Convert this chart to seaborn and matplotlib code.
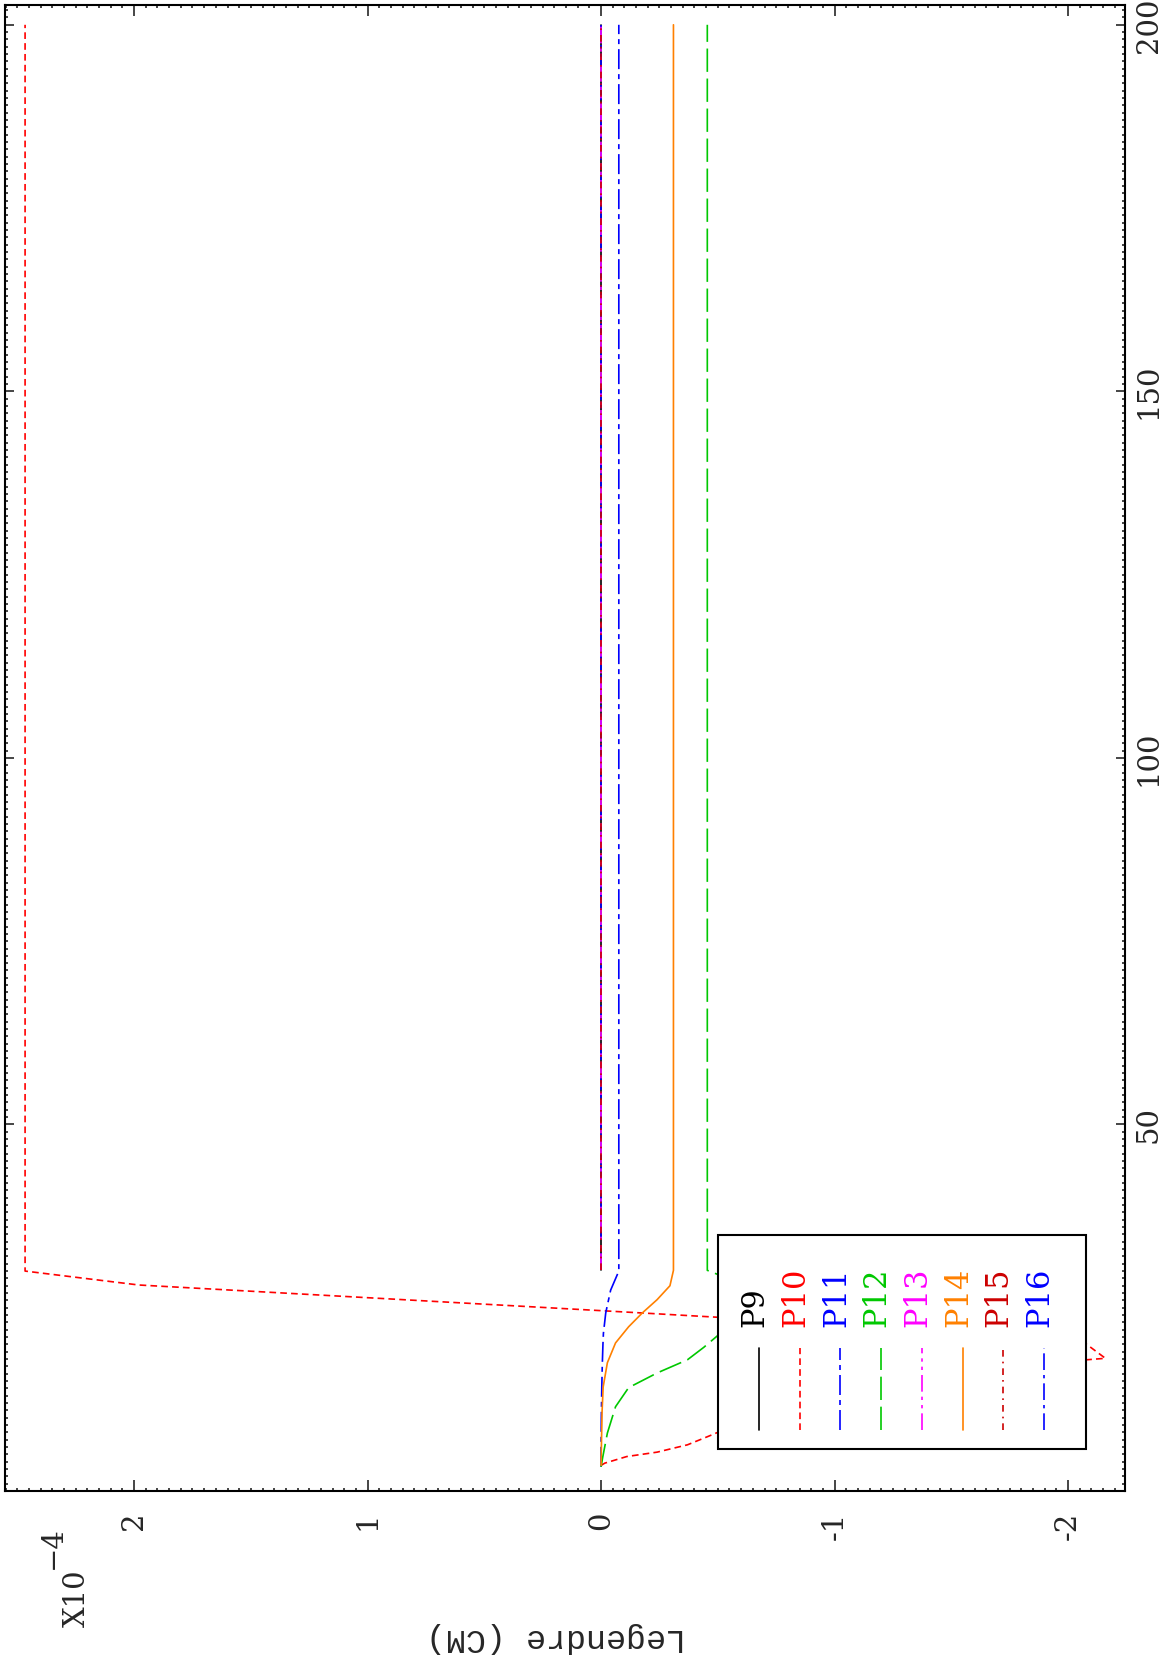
import matplotlib
matplotlib.use("Agg")
import matplotlib.pyplot as plt
import seaborn as sns
from matplotlib.lines import Line2D
from matplotlib.patches import Rectangle
from matplotlib.ticker import MultipleLocator

# ---- data (values in units of 1e-4 cm) ----
labels = ["P9", "P10", "P11", "P12", "P13", "P14", "P15", "P16"]
colors = ["#000000", "#ff0000", "#0000ff", "#00c800", "#ff00ff", "#ff8000", "#cc0000", "#0000ff"]

p9_x = [30.1, 200]
p9_v = [0, 0]

p10_x = [3.5, 3.8, 4.7, 5.3, 6.3, 7.4, 8.0, 10, 12, 14, 16, 17.9, 18.1, 20.0, 22.0, 23.7, 24.6, 28.1, 30.0, 200]
p10_v = [0, -0.016, -0.11, -0.24, -0.37, -0.455, -0.50, -0.65, -0.85, -1.1, -1.45, -2.08, -2.16, -2.08, -1.2, -0.50, 0, 1.98, 2.467, 2.467]

p11_x = [3.3, 6.5, 10, 14, 17, 20, 21.5, 24.3, 27.4, 29.7, 30.1, 200]
p11_v = [0, 0, -0.001, -0.003, -0.005, -0.008, -0.01, -0.02, -0.041, -0.072, -0.076, -0.076]

p12_x = [3.3, 4.6, 7.9, 11.5, 14.1, 16.1, 17.9, 19.6, 21.3, 23.0, 25.0, 27.0, 29.5, 30.1, 200]
p12_v = [0, -0.007, -0.027, -0.062, -0.118, -0.24, -0.37, -0.44, -0.503, -0.55, -0.57, -0.56, -0.503, -0.455, -0.455]

p13_x = [30.1, 200]
p13_v = [0, 0]

p14_x = [3.5, 10.6, 14.2, 17.5, 20.2, 22.4, 24.3, 26.1, 28.0, 30.1, 200]
p14_v = [0, -0.004, -0.009, -0.027, -0.062, -0.118, -0.177, -0.24, -0.295, -0.31, -0.31]

p15_x = [30.1, 200]
p15_v = [0, 0]

p16_x = [30.1, 200]
p16_v = [0, 0]

series_x = [p9_x, p10_x, p11_x, p12_x, p13_x, p14_x, p15_x, p16_x]
series_v = [p9_v, p10_v, p11_v, p12_v, p13_v, p14_v, p15_v, p16_v]

styles = ["-", (0, (4, 2.5)), (0, (12, 3, 3, 3)), (0, (14, 4)),
          (0, (10, 3, 2, 3, 2, 3)), "-", (0, (4, 3, 1, 3)), (0, (10, 3, 2, 3))]
# stacking so the dark red / magenta zero lines sit on top of the blue one
zorders = [2, 2, 2, 2, 3, 2, 4, 2.5]

val_ticks = [-2, -1, 0, 1, 2]
pos_ticks = [50, 100, 150, 200]

sns.set_style("white")
plt.rcParams["font.family"] = ["DejaVu Serif"]

W, H = 1167, 1659
fig = plt.figure(figsize=(W / 100, H / 100), dpi=100)
ax = fig.add_axes([5 / W, 1 - 1491 / H, 1120 / W, 1486 / H])

lw = 1.2
for xs, vs, c, ls, z in zip(series_x, series_v, colors, styles, zorders):
    sns.lineplot(x=vs, y=xs, orient="y", sort=False, estimator=None,
                 color=c, linestyle=ls, linewidth=lw, zorder=z, ax=ax)

ax.set_xlim(2.553, -2.244)
ax.set_ylim(0, 202.7)
ax.set_xlabel("")
ax.set_ylabel("")

for s in ax.spines.values():
    s.set_visible(True)
    s.set_linewidth(1.5)
    s.set_color("black")

ax.set_xticks(val_ticks)
ax.set_xticklabels([str(t) for t in val_ticks])
ax.xaxis.set_minor_locator(MultipleLocator(0.05))
ax.yaxis.tick_right()
ax.set_yticks(pos_ticks)
ax.set_yticklabels([str(t) for t in pos_ticks])
ax.yaxis.set_minor_locator(MultipleLocator(1))

ax.tick_params(axis="x", which="both", direction="in", top=True, bottom=True,
               labelbottom=True, labelsize=21, pad=15, labelrotation=90, width=1.2)
ax.tick_params(axis="x", which="major", length=8)
ax.tick_params(axis="x", which="minor", length=2.5)
ax.tick_params(axis="y", which="both", direction="in", left=True, right=True,
               labelright=True, labelleft=False, labelsize=21, pad=7, labelrotation=90, width=1.2)
ax.tick_params(axis="y", which="major", length=6.5)
ax.tick_params(axis="y", which="minor", length=2.5)
for t in ax.get_yticklabels():
    t.set_verticalalignment("center")
    t.set_horizontalalignment("left")


def fx(px):
    return px / W


def fy(py):
    return 1 - py / H


# axis label and multiplier (rotated page)
fig.text(fx(556), fy(1637), "Legendre (CM)", rotation=180, ha="center", va="center",
         fontsize=24, family=["Liberation Mono", "DejaVu Sans Mono"])
fig.text(fx(77), fy(1598), "X10", rotation=90, ha="center", va="center", fontsize=21)
fig.text(fx(53), fy(1548), "\u22124", rotation=90, ha="center", va="center", fontsize=21)

# legend box
box_l, box_r, box_t, box_b = 718, 1086, 1235, 1449
fig.add_artist(Rectangle((fx(box_l), fy(box_b)), (box_r - box_l) / W, (box_b - box_t) / H,
                         transform=fig.transFigure, facecolor="white", edgecolor="black",
                         linewidth=1.5, zorder=5))
for i, (lab, c, ls) in enumerate(zip(labels, colors, styles)):
    xs = 759 + i * 40.7
    fig.add_artist(Line2D([fx(xs), fx(xs)], [fy(1430), fy(1348)], transform=fig.transFigure,
                          color=c, linestyle=ls, linewidth=lw, zorder=6))
    fig.text(fx(xs - 4), fy(1327), lab, rotation=90, ha="center", va="bottom",
             color=c, fontsize=22, zorder=7)

fig.savefig("out.png", dpi=100)
